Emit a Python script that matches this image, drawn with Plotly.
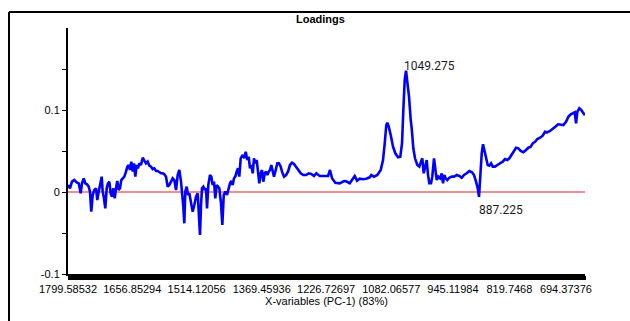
import plotly.graph_objects as go

# PC-1 loading spectrum: wavenumber (cm-1) and loading value
wavenumber = [
    1799.6, 1795.2, 1790.7, 1785.6, 1780.3, 1775.8, 1771.4, 1768.5, 1764.7, 1761.2,
    1757.4, 1753.6, 1750.8, 1747.9, 1744.8, 1741.2, 1737.4, 1734.6, 1731.4, 1727.9,
    1724.8, 1722.6, 1720.3, 1716.8, 1713.7, 1710.8, 1707.9, 1704.8, 1701.9, 1699.0,
    1695.9, 1693.0, 1690.2, 1687.0, 1684.2, 1681.3, 1678.2, 1674.6, 1670.8, 1667.9,
    1664.8, 1662.0, 1659.1, 1655.9, 1653.1, 1650.2, 1647.1, 1644.2, 1641.3, 1637.5,
    1633.8, 1630.2, 1626.4, 1622.7, 1619.1, 1615.3, 1611.6, 1608.0, 1604.2, 1600.5,
    1596.9, 1593.1, 1589.4, 1585.8, 1582.0, 1578.3, 1574.7, 1570.9, 1567.2, 1563.6,
    1559.8, 1556.1, 1552.5, 1548.7, 1546.5, 1543.6, 1541.4, 1539.2, 1536.1, 1533.2,
    1530.3, 1526.5, 1522.8, 1519.2, 1515.4, 1511.7, 1509.4, 1506.6, 1504.3, 1502.1,
    1499.2, 1496.1, 1493.2, 1491.0, 1488.1, 1484.4, 1481.5, 1478.4, 1475.5, 1472.6,
    1469.5, 1466.6, 1463.7, 1459.9, 1457.0, 1453.9, 1450.4, 1446.6, 1443.7, 1440.0,
    1437.1, 1434.0, 1431.1, 1428.2, 1425.1, 1422.2, 1419.3, 1416.2, 1411.7, 1408.2,
    1405.1, 1401.5, 1398.4, 1395.6, 1392.7, 1389.5, 1386.7, 1383.8, 1380.7, 1377.8,
    1374.9, 1371.8, 1368.9, 1366.0, 1362.9, 1360.0, 1357.1, 1354.0, 1351.2, 1348.3,
    1345.2, 1342.3, 1338.5, 1335.0, 1331.2, 1327.4, 1324.5, 1320.1, 1315.6, 1311.2,
    1306.8, 1302.3, 1297.9, 1293.4, 1288.3, 1283.0, 1277.2, 1271.2, 1265.2, 1259.5,
    1253.5, 1248.4, 1240.8, 1229.7, 1222.4, 1218.0, 1213.5, 1206.2, 1196.4, 1186.9,
    1181.8, 1174.2, 1168.5, 1163.1, 1158.0, 1152.0, 1144.7, 1137.4, 1129.8, 1126.3,
    1120.3, 1112.9, 1105.4, 1100.3, 1096.5, 1093.0, 1090.7, 1087.6, 1083.2, 1078.1,
    1073.0, 1067.0, 1061.9, 1058.1, 1055.2, 1052.1, 1049.275, 1046.3, 1042.6, 1038.8,
    1036.6, 1033.0, 1029.3, 1024.2, 1019.7, 1016.0, 1013.1, 1010.0, 1007.1, 1003.3,
    1000.4, 997.5, 993.7, 990.9, 987.1, 984.2, 981.1, 977.5, 973.8, 970.0,
    967.1, 964.2, 961.1, 957.6, 953.1, 947.8, 942.7, 936.7, 930.9, 925.6,
    920.5, 914.5, 908.7, 902.7, 898.3, 893.8, 890.1, 887.225, 884.3, 881.2,
    878.3, 875.4, 871.6, 867.9, 864.3, 860.5, 856.8, 851.7, 846.5, 840.6,
    834.6, 829.5, 824.4, 819.9, 814.6, 809.5, 805.0, 799.9, 794.6, 788.8,
    782.8, 777.7, 772.4, 767.9, 762.8, 757.7, 751.8, 745.8, 740.7, 735.6,
    729.6, 723.6, 717.8, 711.8, 705.8, 700.0, 694.0, 688.9, 683.6, 679.1,
    674.7, 671.8, 668.9, 664.5, 660.0, 655.6, 651.9,
]

loading = [
    0.0085, 0.0045, 0.0126, 0.0146, 0.0118, 0.0106, -0.0016, 0.0106, 0.0167, 0.0106,
    0.0094, 0.0065, 0.0004, -0.0240, -0.0037, 0.0024, 0.0045, -0.0098, 0.0004, 0.0106,
    0.0187, 0.0004, -0.0057, -0.0199, 0.0045, 0.0106, 0.0126, -0.0016, -0.0057, 0.0045,
    -0.0077, 0.0045, 0.0134, 0.0024, 0.0045, 0.0146, 0.0167, 0.0187, 0.0248, 0.0309,
    0.0329, 0.0268, 0.0370, 0.0248, 0.0350, 0.0187, 0.0329, 0.0289, 0.0350, 0.0329,
    0.0418, 0.0390, 0.0350, 0.0370, 0.0321, 0.0309, 0.0280, 0.0289, 0.0256, 0.0256,
    0.0240, 0.0228, 0.0228, 0.0216, 0.0187, 0.0065, 0.0085, 0.0126, 0.0167, 0.0146,
    0.0024, 0.0207, 0.0268, 0.0126, 0.0004, -0.0179, -0.0382, 0.0004, 0.0065, -0.0037,
    -0.0016, -0.0118, -0.0240, -0.0159, -0.0057, -0.0016, -0.0199, -0.0524, -0.0159, 0.0045,
    0.0065, 0.0024, 0.0045, -0.0199, 0.0085, 0.0207, 0.0187, 0.0085, 0.0126, -0.0077,
    0.0085, 0.0065, 0.0045, -0.0138, -0.0402, -0.0037, 0.0004, -0.0037, 0.0045, 0.0106,
    0.0134, 0.0085, 0.0167, 0.0187, 0.0248, 0.0289, 0.0187, 0.0411, 0.0451, 0.0411,
    0.0491, 0.0390, 0.0430, 0.0289, 0.0329, 0.0228, 0.0411, 0.0350, 0.0390, 0.0228,
    0.0106, 0.0228, 0.0268, 0.0126, 0.0228, 0.0248, 0.0207, 0.0248, 0.0268, 0.0329,
    0.0248, 0.0187, 0.0268, 0.0350, 0.0350, 0.0309, 0.0248, 0.0187, 0.0207, 0.0248,
    0.0329, 0.0357, 0.0341, 0.0309, 0.0268, 0.0228, 0.0207, 0.0207, 0.0228, 0.0220,
    0.0195, 0.0228, 0.0195, 0.0195, 0.0195, 0.0268, 0.0167, 0.0113, 0.0106, 0.0134,
    0.0130, 0.0106, 0.0146, 0.0195, 0.0138, 0.0162, 0.0155, 0.0162, 0.0179, 0.0207,
    0.0187, 0.0207, 0.0268, 0.0390, 0.0594, 0.0817, 0.0845, 0.0796, 0.0695, 0.0552,
    0.0472, 0.0423, 0.0430, 0.0594, 0.1000, 0.1366, 0.1480, 0.1366, 0.1162, 0.0878,
    0.0777, 0.0533, 0.0411, 0.0329, 0.0309, 0.0370, 0.0411, 0.0228, 0.0309, 0.0390,
    0.0207, 0.0106, 0.0106, 0.0187, 0.0411, 0.0248, 0.0146, 0.0187, 0.0167, 0.0228,
    0.0106, 0.0207, 0.0167, 0.0146, 0.0174, 0.0187, 0.0187, 0.0207, 0.0195, 0.0174,
    0.0207, 0.0228, 0.0256, 0.0240, 0.0207, 0.0126, 0.0045, -0.0060, 0.0248, 0.0472,
    0.0582, 0.0512, 0.0390, 0.0329, 0.0321, 0.0350, 0.0309, 0.0309, 0.0329, 0.0350,
    0.0370, 0.0402, 0.0390, 0.0411, 0.0451, 0.0500, 0.0540, 0.0533, 0.0500, 0.0484,
    0.0512, 0.0540, 0.0552, 0.0594, 0.0613, 0.0646, 0.0662, 0.0687, 0.0735, 0.0728,
    0.0744, 0.0777, 0.0796, 0.0826, 0.0826, 0.0817, 0.0857, 0.0918, 0.0948, 0.0960,
    0.0972, 0.0838, 0.0979, 0.1021, 0.1000, 0.0960, 0.0939,
]

# Axis tick positions and labels
x_tick_vals = [1799.58532, 1656.85294, 1514.12056, 1369.45936, 1226.72697,
               1082.06577, 945.11984, 819.7468, 694.37376]
x_tick_text = ["1799.58532", "1656.85294", "1514.12056", "1369.45936", "1226.72697",
               "1082.06577", "945.11984", "819.7468", "694.37376"]
y_tick_vals = [-0.1, -0.05, 0, 0.05, 0.1, 0.15]
y_tick_text = ["-0.1", "", "0", "", "0.1", ""]

# Marked extremes
marked_x = [1049.275, 887.225]
marked_text = ["1049.275", "887.225"]

x_first, x_last = 1799.58532, 651.94
x_step = 1.92882

fig = go.Figure()
fig.add_trace(go.Scatter(
    x=wavenumber, y=loading, mode="lines",
    line=dict(color="#0000ff", width=2.6),
    hoverinfo="skip", showlegend=False,
))

# Zero reference line
fig.add_shape(type="line", xref="paper", yref="y", x0=0, x1=1, y0=0, y1=0,
              line=dict(color="#f26a6a", width=1.6), layer="below")

# Outer frame (top and left edges)
fig.add_shape(type="line", xref="paper", yref="paper",
              x0=-0.1141, x1=1.09, y0=1.065, y1=1.065,
              line=dict(color="black", width=2))
fig.add_shape(type="line", xref="paper", yref="paper",
              x0=-0.1141, x1=-0.1141, y0=1.065, y1=-0.2,
              line=dict(color="black", width=2))

# Point labels on the extremes
for xv, txt, xs, ys in zip(marked_x, marked_text, [-4, -2], [4.5, -13]):
    yv = loading[wavenumber.index(xv)]
    fig.add_annotation(x=xv, y=yv, text=txt, showarrow=False,
                       xanchor="left", yanchor="middle", xshift=xs, yshift=ys,
                       font=dict(family="Roboto", size=12, color="#1a1a1a"))

# Chart title
fig.add_annotation(x=0.489, y=1.0366, xref="paper", yref="paper", text="<b>Loadings</b>",
                   showarrow=False, xanchor="center", yanchor="middle",
                   font=dict(family="Liberation Sans", size=11, color="black"))

fig.update_layout(
    width=630, height=321,
    margin=dict(l=68, r=45, t=28, b=47, pad=0),
    paper_bgcolor="white", plot_bgcolor="white",
    font=dict(family="Liberation Sans", size=11, color="black"),
    xaxis=dict(
        range=[x_first, x_last], showgrid=False, zeroline=False,
        showline=True, linecolor="black", linewidth=2,
        tickmode="array", tickvals=x_tick_vals, ticktext=x_tick_text,
        ticks="outside", ticklen=4, tickwidth=1, tickcolor="black",
        tickfont=dict(size=11, color="black"),
        minor=dict(ticks="outside", ticklen=4, tickwidth=1, tickcolor="black",
                   tick0=x_first, dtick=x_step, showgrid=False),
        title=dict(text="X-variables (PC-1) (83%)", font=dict(size=11, color="black"),
                   standoff=2),
    ),
    yaxis=dict(
        range=[-0.1, 0.2], showgrid=False, zeroline=False,
        showline=True, linecolor="black", linewidth=2,
        tickmode="array", tickvals=y_tick_vals, ticktext=y_tick_text,
        ticks="outside", ticklen=4, tickwidth=1, tickcolor="black",
        tickfont=dict(size=11, color="black"),
    ),
)

fig.write_html("out.html")
